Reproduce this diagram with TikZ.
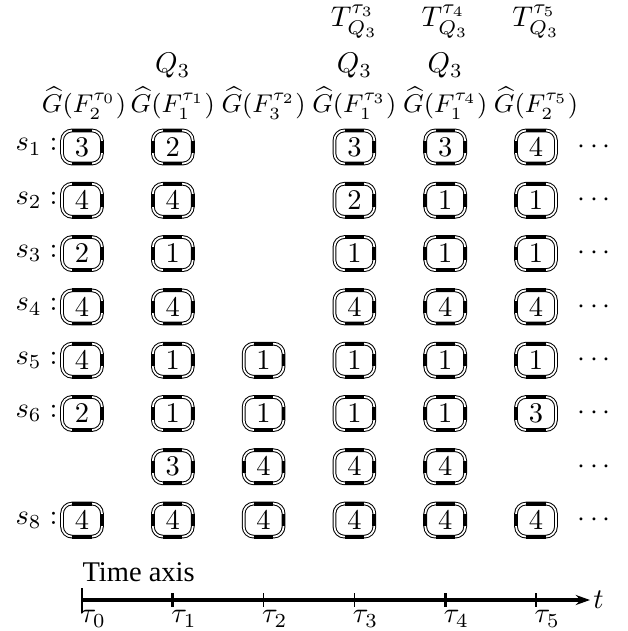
\documentclass[tikz,border=0pt]{standalone}
\usepackage[no-math]{fontspec}
\newfontfamily\timesfont{Liberation Serif}
\usetikzlibrary{arrows.meta}
\newcommand\cellbox[4]{%
  \node[cellnode] (b#1#2) at ({82+90.8*#1},{147+53.3*(#2-1)}) {$#3$};
  \draw[frame] (b#1#2.south west) rectangle (b#1#2.north east);
  \draw[bar] ([xshift=-3.4pt]b#1#2.north) -- ([xshift=3.4pt]b#1#2.north);
  \draw[bar] ([xshift=-3.4pt]b#1#2.south) -- ([xshift=3.4pt]b#1#2.south);
  \ifnum#4=1 \draw[bar] ([yshift=-2.2pt]b#1#2.west) -- ([yshift=2.2pt]b#1#2.west);\fi
  \ifnum#1<5 \draw[bar] ([yshift=-2.2pt]b#1#2.east) -- ([yshift=2.2pt]b#1#2.east);\fi
}
\begin{document}
\begin{tikzpicture}[x=0.351pt,y=-0.351pt,
  cellnode/.style={minimum width=13.6pt,minimum height=11.2pt,inner sep=0pt},
  frame/.style={draw=black,double=white,double distance=0.6pt,line width=0.35pt,rounded corners=3.5pt},
  bar/.style={line width=1.35pt},
  glabel/.style={inner sep=0pt,font=\fontsize{9.2}{11}\selectfont},
  axisline/.style={line width=1.1pt},
  thicktick/.style={line width=1pt},
  thintick/.style={line width=0.5pt}]
\useasboundingbox (0,0) rectangle (628,631);
% header rows
\foreach \k/\t in {3/\tau_3,4/\tau_4,5/\tau_5}
  \node (t\k) at ({82+90.8*\k},22) {$T_{Q_3}^{\t}$};
\foreach \k in {1,3,4}
  \node (q\k) at ({82+90.8*\k},66) {$Q_3$};
\node[glabel] (g0) at (84,103) {$\widehat{G}(F_2^{\tau_0})$};
\node[glabel] (g1) at ({82+90.8},103) {$\widehat{G}(F_1^{\tau_1})$};
\node[glabel] (g2) at ({82+90.8*2},103) {$\widehat{G}(F_3^{\tau_2})$};
\node[glabel] (g3) at ({82+90.8*3},103) {$\widehat{G}(F_1^{\tau_3})$};
\node[glabel] (g4) at ({82+90.8*4},103) {$\widehat{G}(F_1^{\tau_4})$};
\node[glabel] (g5) at ({82+90.8*5},103) {$\widehat{G}(F_2^{\tau_5})$};
% row labels
\foreach \r in {1,...,6}
  \node[anchor=east,inner sep=1pt] (s\r) at (61,{147+53.3*(\r-1)}) {$s_\r:$};
\node[anchor=east,inner sep=1pt] (s8) at (61,{147+53.3*7}) {$s_8:$};
% dots
\foreach \r in {1,...,8}
  \node (d\r) at (594,{147+53.3*(\r-1)}) {$\cdots$};
% cells: col,row,digit,left-thick
\cellbox{0}{1}{3}{0}\cellbox{1}{1}{2}{1}\cellbox{3}{1}{3}{0}\cellbox{4}{1}{3}{1}\cellbox{5}{1}{4}{1}
\cellbox{0}{2}{4}{0}\cellbox{1}{2}{4}{1}\cellbox{3}{2}{2}{0}\cellbox{4}{2}{1}{1}\cellbox{5}{2}{1}{1}
\cellbox{0}{3}{2}{0}\cellbox{1}{3}{1}{1}\cellbox{3}{3}{1}{0}\cellbox{4}{3}{1}{1}\cellbox{5}{3}{1}{1}
\cellbox{0}{4}{4}{0}\cellbox{1}{4}{4}{1}\cellbox{3}{4}{4}{0}\cellbox{4}{4}{4}{1}\cellbox{5}{4}{4}{1}
\cellbox{0}{5}{4}{0}\cellbox{1}{5}{1}{1}\cellbox{2}{5}{1}{0}\cellbox{3}{5}{1}{0}\cellbox{4}{5}{1}{1}\cellbox{5}{5}{1}{1}
\cellbox{0}{6}{2}{0}\cellbox{1}{6}{1}{1}\cellbox{2}{6}{1}{0}\cellbox{3}{6}{1}{0}\cellbox{4}{6}{1}{1}\cellbox{5}{6}{3}{1}
\cellbox{1}{7}{3}{1}\cellbox{2}{7}{4}{1}\cellbox{3}{7}{4}{0}\cellbox{4}{7}{4}{1}
\cellbox{0}{8}{4}{0}\cellbox{1}{8}{4}{1}\cellbox{2}{8}{4}{0}\cellbox{3}{8}{4}{0}\cellbox{4}{8}{4}{1}\cellbox{5}{8}{4}{1}
% time axis
\node[anchor=west,inner sep=0pt,font=\timesfont] (tax) at (82,572) {Time axis};
\coordinate (a0) at (82,600);
\coordinate (aend) at (590,600);
\draw[axisline,-{Stealth[length=5pt,width=3.5pt]}] (a0) -- (aend);
\node[anchor=west,inner sep=1pt] (tl) at (aend) {$t$};
\draw[thicktick] (82,588) -- (82,613);
\foreach \k/\s in {1/thicktick,2/thintick,3/thintick,4/thicktick,5/thicktick}
  \draw[\s] ({82+90.8*\k},593) -- ({82+90.8*\k},607);
\foreach \k in {0,...,5}
  \node[anchor=north west,inner sep=0pt] (tau\k) at ({80+90.8*\k},610) {$\tau_\k$};
\end{tikzpicture}
\end{document}
